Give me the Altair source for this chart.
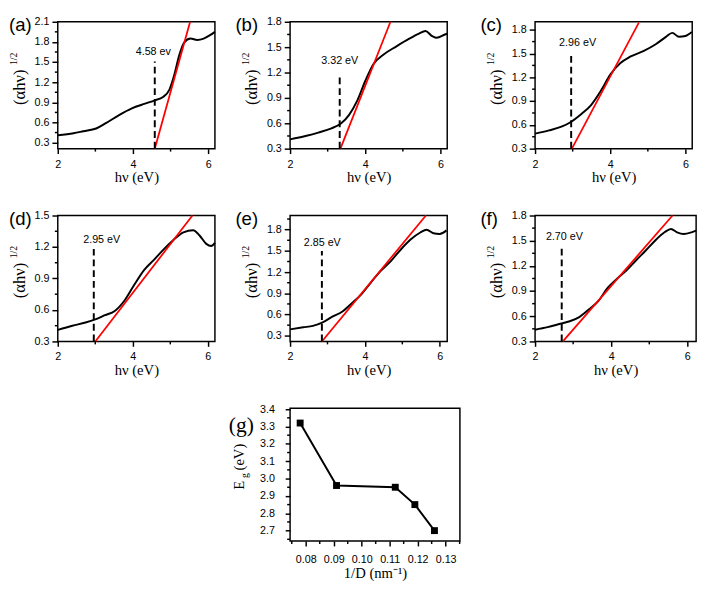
import altair as alt
import pandas as pd

# ---------------- data ----------------
a_x = [2.0, 2.42, 2.68, 3.02, 3.28, 3.63, 3.97, 4.32, 4.58, 4.80, 4.97, 5.10, 5.23, 5.36, 5.53, 5.71, 5.88, 6.05, 6.18]
a_y = [0.41, 0.44, 0.47, 0.51, 0.59, 0.71, 0.81, 0.88, 0.93, 0.98, 1.09, 1.31, 1.60, 1.79, 1.85, 1.83, 1.85, 1.90, 1.95]
b_x = [2.0, 2.41, 2.75, 3.10, 3.36, 3.57, 3.79, 4.00, 4.22, 4.48, 4.83, 5.17, 5.43, 5.60, 5.78, 5.90, 6.12, 6.18]
b_y = [0.41, 0.45, 0.49, 0.54, 0.60, 0.70, 0.87, 1.10, 1.30, 1.41, 1.51, 1.60, 1.66, 1.69, 1.63, 1.61, 1.65, 1.66]
c_x = [2.0, 2.37, 2.72, 2.93, 3.24, 3.49, 3.75, 4.01, 4.27, 4.53, 4.88, 5.22, 5.48, 5.65, 5.83, 6.0, 6.17]
c_y = [0.49, 0.53, 0.58, 0.63, 0.74, 0.85, 1.03, 1.24, 1.38, 1.46, 1.53, 1.62, 1.71, 1.76, 1.71, 1.72, 1.77]
d_x = [2.0, 2.39, 2.74, 3.0, 3.26, 3.52, 3.78, 4.04, 4.30, 4.57, 4.83, 5.09, 5.35, 5.61, 5.78, 5.96, 6.09, 6.19]
d_y = [0.41, 0.45, 0.48, 0.51, 0.55, 0.59, 0.69, 0.84, 0.98, 1.08, 1.18, 1.27, 1.34, 1.36, 1.31, 1.23, 1.21, 1.24]
e_x = [2.0, 2.35, 2.61, 2.87, 3.13, 3.39, 3.65, 3.91, 4.17, 4.43, 4.70, 4.96, 5.22, 5.48, 5.65, 5.83, 6.0, 6.18]
e_y = [0.39, 0.42, 0.44, 0.49, 0.57, 0.64, 0.76, 0.89, 1.06, 1.22, 1.36, 1.52, 1.66, 1.76, 1.80, 1.75, 1.74, 1.79]
f_x = [2.0, 2.33, 2.66, 2.91, 3.16, 3.41, 3.66, 3.91, 4.16, 4.41, 4.66, 4.90, 5.15, 5.40, 5.57, 5.73, 5.90, 6.11, 6.23]
f_y = [0.44, 0.47, 0.51, 0.54, 0.59, 0.68, 0.78, 0.94, 1.05, 1.15, 1.27, 1.38, 1.50, 1.60, 1.64, 1.60, 1.58, 1.60, 1.62]

# tangent (red) line end points per panel
red_x = {"a": [4.58, 5.52], "b": [3.34, 4.67], "c": [2.98, 4.76], "d": [3.0, 5.59], "e": [2.85, 5.63], "f": [2.73, 5.61]}
red_y = {"a": [0.21, 2.1], "b": [0.3, 1.8], "c": [0.3, 1.89], "d": [0.3, 1.5], "e": [0.22, 2.0], "f": [0.3, 1.8]}

# band gap marker (dashed line) and labels
eg_x = {"a": 4.58, "b": 3.32, "c": 2.96, "d": 2.96, "e": 2.85, "f": 2.70}
dash_top = {"a": 1.51, "b": 1.16, "c": 1.48, "d": 1.18, "e": 1.50, "f": 1.42}
eg_label = {"a": "4.58 ev", "b": "3.32 eV", "c": "2.96 eV", "d": "2.95 eV", "e": "2.85 eV", "f": "2.70 eV"}
label_x = {"a": 4.54, "b": 3.32, "c": 3.13, "d": 3.17, "e": 2.86, "f": 2.77}
label_y = {"a": 1.65, "b": 1.34, "c": 1.63, "d": 1.27, "e": 1.61, "f": 1.54}

x_dom = {"a": [2, 6.18], "b": [2, 6.18], "c": [2, 6.18], "d": [2, 6.19], "e": [2, 6.2], "f": [2, 6.23]}
y_dom = {"a": [0.21, 2.1], "b": [0.3, 1.8], "c": [0.3, 1.9], "d": [0.3, 1.5], "e": [0.22, 2.0], "f": [0.3, 1.8]}

x_major = [2, 4, 6]
x_minor = [3, 5]

# panel (g)
g_x = [0.078, 0.091, 0.112, 0.119, 0.126]
g_y = [3.32, 2.96, 2.95, 2.85, 2.70]
g_x_major = [0.08, 0.09, 0.10, 0.11, 0.12, 0.13]
g_x_minor = [0.075, 0.085, 0.095, 0.105, 0.115, 0.125, 0.135]
g_y_major = [2.7, 2.8, 2.9, 3.0, 3.1, 3.2, 3.3, 3.4]
g_y_minor = [2.65, 2.75, 2.85, 2.95, 3.05, 3.15, 3.25, 3.35]

curves = {"a": (a_x, a_y), "b": (b_x, b_y), "c": (c_x, c_y),
          "d": (d_x, d_y), "e": (e_x, e_y), "f": (f_x, f_y)}

SANS = "Liberation Sans"
SERIF = "Liberation Serif"
one = pd.DataFrame({"k": [0]})


def minor_ticks(xs, ys, xaxis, yaxis, xvals, yvals, height, xlen=3, ylen=3):
    xt = alt.Chart(pd.DataFrame({"x": xvals})).mark_rule(color="black", strokeWidth=1.5).encode(
        x=alt.X("x:Q", scale=xs, axis=xaxis), y=alt.value(height), y2=alt.value(height + xlen))
    yt = alt.Chart(pd.DataFrame({"y": yvals})).mark_rule(color="black", strokeWidth=1.5).encode(
        y=alt.Y("y:Q", scale=ys, axis=yaxis), x=alt.value(0), x2=alt.value(-ylen))
    return [xt, yt]


def panel(k, width, height, letter_dx, letter_dy):
    xs = alt.Scale(domain=x_dom[k], nice=False, zero=False)
    ys = alt.Scale(domain=y_dom[k], nice=False, zero=False)
    lo, hi = y_dom[k]
    y_major = [round(0.3 * i, 2) for i in range(1, 10) if lo - 1e-9 <= 0.3 * i <= hi + 1e-9]
    y_minor = [round(0.15 + 0.3 * i, 2) for i in range(0, 10) if lo - 1e-9 <= 0.15 + 0.3 * i <= hi + 1e-9]
    xaxis = alt.Axis(values=x_major, tickSize=5, labelPadding=5, titlePadding=1,
                     labelFlush=False, title="hν (eV)")
    yaxis = alt.Axis(values=y_major, format=".1f", tickSize=6, labelPadding=3, title=None)
    X = lambda: alt.X("x:Q", scale=xs, axis=xaxis)
    Y = lambda: alt.Y("y:Q", scale=ys, axis=yaxis)
    cx, cy = curves[k]
    curve = alt.Chart(pd.DataFrame({"x": cx, "y": cy})).mark_line(
        color="black", strokeWidth=2, interpolate="monotone").encode(x=X(), y=Y())
    red = alt.Chart(pd.DataFrame({"x": red_x[k], "y": red_y[k]})).mark_line(
        color="#ff0000", strokeWidth=1.8).encode(x=X(), y=Y())
    dash = alt.Chart(pd.DataFrame({"x": [eg_x[k]], "y": [lo], "y2": [dash_top[k]]})).mark_rule(
        color="black", strokeWidth=2, strokeDash=[7, 4]).encode(x=X(), y=Y(), y2="y2:Q")
    lab = alt.Chart(pd.DataFrame({"x": [label_x[k]], "y": [label_y[k]], "t": [eg_label[k]]})).mark_text(
        font=SANS, fontSize=11, color="black", align="center", baseline="middle").encode(
        x=X(), y=Y(), text="t:N")
    letter = alt.Chart(one).mark_text(font=SANS, fontSize=19, color="black", align="left",
                                      baseline="top").encode(
        x=alt.value(letter_dx), y=alt.value(letter_dy), text=alt.value("(" + k + ")"))
    yt = alt.Chart(one).mark_text(font=SERIF, fontSize=17, color="black", angle=270,
                                  align="center", baseline="middle").encode(
        x=alt.value(-39), y=alt.value(height / 2 + 2), text=alt.value("(αhν)"))
    ysup = alt.Chart(one).mark_text(font=SERIF, fontSize=10, color="black", angle=270,
                                    align="center", baseline="middle").encode(
        x=alt.value(-45), y=alt.value(height / 2 - 27), text=alt.value("1/2"))
    layers = [curve, red, dash, lab, letter, yt, ysup] + minor_ticks(
        xs, ys, xaxis, yaxis, x_minor, y_minor, height)
    return alt.layer(*layers).properties(width=width, height=height)


spacer = alt.Chart(one).mark_point(opacity=0).encode(
    x=alt.value(0), y=alt.value(0)).properties(
    width=161, height=1, view=alt.ViewBackground(stroke="transparent"))

# panel (g)
G_H = 136
gxs = alt.Scale(domain=[0.0744, 0.1351], nice=False, zero=False)
gys = alt.Scale(domain=[2.64, 3.405], nice=False, zero=False)
gdf = pd.DataFrame({"x": g_x, "y": g_y})
gx_axis = alt.Axis(values=g_x_major, format=".2f", tickSize=5, labelPadding=8, titlePadding=1,
                   labelFlush=False, title="1/D (nm⁻¹)", titleFontSize=15)
gy_axis = alt.Axis(values=g_y_major, format=".1f", tickSize=5, labelPadding=11, title=None)
g_line = alt.Chart(gdf).mark_line(color="black", strokeWidth=2).encode(
    x=alt.X("x:Q", scale=gxs, axis=gx_axis), y=alt.Y("y:Q", scale=gys, axis=gy_axis))
g_pts = alt.Chart(gdf).mark_point(shape="square", filled=True, color="black", size=50, opacity=1).encode(
    x=alt.X("x:Q", scale=gxs, axis=gx_axis), y=alt.Y("y:Q", scale=gys, axis=gy_axis))
g_letter = alt.Chart(one).mark_text(font=SERIF, fontSize=22, color="black", align="center",
                                    baseline="middle").encode(
    x=alt.value(-50), y=alt.value(17), text=alt.value("(g)"))
g_E = alt.Chart(one).mark_text(font=SERIF, fontSize=15, color="black", angle=270,
                               align="center", baseline="middle").encode(
    x=alt.value(-52), y=alt.value(79), text=alt.value("E"))
g_sub = alt.Chart(one).mark_text(font=SERIF, fontSize=10, color="black", angle=270,
                                 align="center", baseline="middle").encode(
    x=alt.value(-46), y=alt.value(69), text=alt.value("g"))
g_eV = alt.Chart(one).mark_text(font=SERIF, fontSize=15, color="black", angle=270,
                                align="center", baseline="middle").encode(
    x=alt.value(-52), y=alt.value(50), text=alt.value("(eV)"))
g_panel = alt.layer(g_line, g_pts, g_letter, g_E, g_sub, g_eV,
                    *minor_ticks(gxs, gys, gx_axis, gy_axis, g_x_minor, g_y_minor, G_H)).properties(
    width=174, height=G_H)

chart = alt.concat(
    panel("a", 161, 130, -50, -6), panel("b", 161, 130, -56, -6), panel("c", 161, 130, -56, -6),
    panel("d", 161, 129, -50, -5), panel("e", 161, 129, -56, -5), panel("f", 165, 129, -56, -5),
    spacer, g_panel,
    columns=3, spacing={"row": 68.5, "column": 77}, bounds="flush", align="none",
).properties(padding=0).configure_view(
    stroke="black", strokeWidth=1.5).configure_axis(
    grid=False, domain=False, tickColor="black", tickWidth=1.5,
    labelFont=SANS, labelFontSize=11, labelColor="black",
    titleFont=SERIF, titleFontSize=15, titleFontWeight="normal", titleColor="black")

chart.save("out.html", embed_options={"renderer": "svg", "actions": False})
